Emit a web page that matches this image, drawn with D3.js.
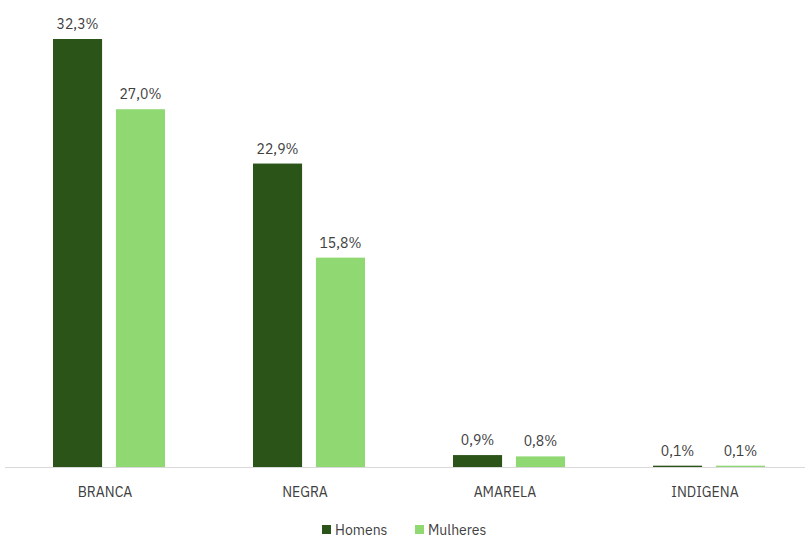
<!DOCTYPE html>
<html><head><meta charset="utf-8">
<script src="https://cdn.jsdelivr.net/npm/d3@7"></script>
<style>body{margin:0;background:#fff}</style></head>
<body><svg id="c" width="811" height="550"></svg>
<script>
const categories=["BRANCA","NEGRA","AMARELA","INDIGENA"];
const homens=[32.3,22.9,0.9,0.1];
const mulheres=[27.0,15.8,0.8,0.1];
const seriesNames=["Homens","Mulheres"];
const colors=["#2a5418","#8fd872"];
const svg=d3.select("#c");
const font="'IBM Plex Sans','Noto Sans',sans-serif";
const x=d3.scaleBand().domain(categories).range([5,805]);
const y=d3.scaleLinear().domain([0,32.3]).range([467,39]);
const inner=d3.scaleBand().domain(seriesNames).range([48,160]).paddingInner(0.22);
const fmt=v=>v.toFixed(1).replace(".",",")+"%";
[homens,mulheres].forEach((arr,si)=>{
  const g=svg.append("g");
  g.selectAll("rect").data(arr).join("rect")
    .attr("x",(d,i)=>x(categories[i])+inner(seriesNames[si]))
    .attr("width",inner.bandwidth())
    .attr("y",d=>y(d)).attr("height",d=>y(0)-y(d))
    .attr("fill",colors[si]);
  g.selectAll("text").data(arr).join("text")
    .attr("x",(d,i)=>x(categories[i])+inner(seriesNames[si])+inner.bandwidth()/2)
    .attr("y",d=>y(d)-10).attr("text-anchor","middle")
    .attr("font-family",font).attr("font-size",14).attr("fill","#404040").text(fmt);
});
svg.append("line").attr("x1",5).attr("x2",805).attr("y1",467.5).attr("y2",467.5).attr("stroke","#d9d9d9");
svg.selectAll(".cat").data(categories).join("text")
  .attr("x",d=>x(d)+x.bandwidth()/2).attr("y",497).attr("text-anchor","middle")
  .attr("font-family",font).attr("font-size",14).attr("fill","#404040").text(d=>d);
const lg=svg.append("g");
const lx=[322,415];
seriesNames.forEach((n,i)=>{
  lg.append("rect").attr("x",lx[i]).attr("y",525).attr("width",9).attr("height",9).attr("fill",colors[i]);
  lg.append("text").attr("x",lx[i]+13).attr("y",535).attr("font-family",font).attr("font-size",14).attr("fill","#404040").text(n);
});
</script></body></html>
